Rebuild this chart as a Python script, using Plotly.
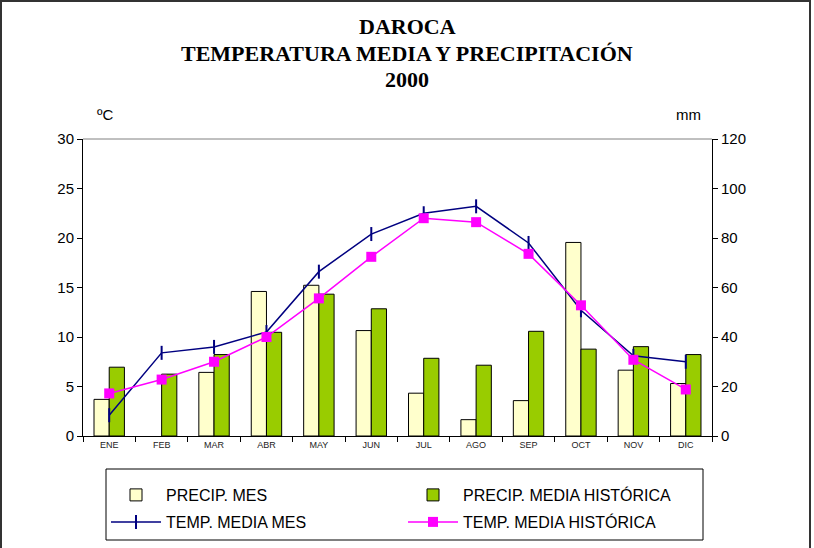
import plotly.graph_objects as go

# Data
# -------------------------------------------------------------------------
months = ['ENE', 'FEB', 'MAR', 'ABR', 'MAY', 'JUN',
          'JUL', 'AGO', 'SEP', 'OCT', 'NOV', 'DIC']
precip_mes = [14.8, None, 25.7, 58.4, 60.9, 42.6, 17.3, 6.6, 14.3, 78.2, 26.6, 21.2]
precip_hist = [27.8, 25.0, 32.9, 41.9, 57.3, 51.4, 31.4, 28.6, 42.3, 35.1, 36.1, 32.9]
temp_mes = [2.1, 8.4, 9.0, 10.5, 16.6, 20.4, 22.5, 23.2, 19.5, 12.7, 8.1, 7.5]
temp_hist = [4.3, 5.7, 7.5, 10.0, 13.9, 18.1, 22.0, 21.6, 18.4, 13.2, 7.7, 4.7]
title_lines = ['DAROCA', 'TEMPERATURA MEDIA Y PRECIPITACIÓN', '2000']

W, H = 814, 548
ML, MR, MT, MB = 83, 102, 139, 112
PW, PH = W - ML - MR, H - MT - MB


def px(x):
    # figure pixel -> paper x
    return (x - ML) / PW


def py(y):
    # figure pixel (from top) -> paper y
    return (H - MB - y) / PH


SANS = 'Arial, Liberation Sans, sans-serif'
SERIF = 'Times New Roman, Liberation Serif, serif'

# Traces
# -------------------------------------------------------------------------
bar_mes = go.Bar(x=months, y=precip_mes, name='PRECIP. MES',
                 marker=dict(color='#FFFFCC', line=dict(color='#000000', width=1)),
                 yaxis='y', legend='legend')
bar_hist = go.Bar(x=months, y=precip_hist, name='PRECIP. MEDIA HISTÓRICA',
                  marker=dict(color='#99CC00', line=dict(color='#000000', width=1)),
                  yaxis='y', legend='legend2')
line_mes = go.Scatter(x=months, y=temp_mes, name='TEMP. MEDIA MES',
                      mode='lines+markers', yaxis='y2', legend='legend3',
                      line=dict(color='#000080', width=1.5),
                      marker=dict(symbol='line-ns', size=10,
                                  line=dict(color='#000080', width=2)))
line_hist = go.Scatter(x=months, y=temp_hist, name='TEMP. MEDIA HISTÓRICA',
                       mode='lines+markers', yaxis='y2', legend='legend4',
                       line=dict(color='#FF00FF', width=1.5),
                       marker=dict(symbol='square', size=10, color='#FF00FF'))

fig = go.Figure(data=[bar_mes, bar_hist, line_mes, line_hist])

legend_common = dict(orientation='h', xanchor='left', yanchor='middle',
                     bgcolor='rgba(0,0,0,0)', borderwidth=0, itemwidth=50,
                     font=dict(family=SANS, size=16, color='#000000'),
                     itemclick=False, itemdoubleclick=False)

# Title lines and unit labels
notes = []
for line, ypix in zip(title_lines, [27, 53, 80]):
    notes.append(dict(text='<b>%s</b>' % line, x=px(W / 2), y=py(ypix),
                      xref='paper', yref='paper', showarrow=False,
                      xanchor='center', yanchor='middle',
                      font=dict(family=SERIF, size=22, color='#000000')))
notes += [
    dict(text='ºC', x=px(105), y=py(115), xref='paper', yref='paper',
         xanchor='center', yanchor='middle', showarrow=False,
         font=dict(size=15)),
    dict(text='mm', x=px(688), y=py(115), xref='paper', yref='paper',
         xanchor='center', yanchor='middle', showarrow=False,
         font=dict(size=15)),
]

fig.update_layout(
    width=W, height=H,
    margin=dict(l=ML, r=MR, t=MT, b=MB, autoexpand=False),
    paper_bgcolor='white', plot_bgcolor='white',
    font=dict(family=SANS, size=15, color='#000000'),
    barmode='group', bargap=0.42, bargroupgap=0,
    xaxis=dict(range=[-0.5, len(months) - 0.5],
               showline=True, linecolor='#000000', linewidth=1,
               ticks='outside', tickson='boundaries', ticklen=5,
               tickcolor='#000000', showgrid=False,
               tickfont=dict(family=SANS, size=9, color='#222222')),
    yaxis=dict(side='right', range=[0, 120], dtick=20, showgrid=False,
               zeroline=False, showline=True, linecolor='#000000', linewidth=1,
               ticks='outside', ticklen=5, tickcolor='#000000',
               tickfont=dict(size=15)),
    yaxis2=dict(side='left', overlaying='y', range=[0, 30], dtick=5,
                showgrid=False, zeroline=False, showline=True,
                linecolor='#000000', linewidth=1, ticks='outside', ticklen=5,
                tickcolor='#000000', tickfont=dict(size=15)),
    legend=dict(legend_common, x=px(106), y=py(495)),
    legend2=dict(legend_common, x=px(403), y=py(495)),
    legend3=dict(legend_common, x=px(106), y=py(522)),
    legend4=dict(legend_common, x=px(403), y=py(522)),
    showlegend=True,
    annotations=notes,
    shapes=[
        # grey top edge of the plot area
        dict(type='line', xref='paper', yref='paper', x0=0, x1=1, y0=1, y1=1,
             line=dict(color='#808080', width=1)),
        # legend box
        dict(type='rect', xref='paper', yref='paper',
             x0=px(106), x1=px(703), y0=py(469), y1=py(540),
             line=dict(color='#000000', width=1)),
        # outer frame
        dict(type='rect', xref='paper', yref='paper',
             x0=px(1), x1=px(810), y0=py(1), y1=py(H + 20),
             line=dict(color='#333333', width=2)),
    ],
)

# drop the browser's default page margin so the chart sits at 0,0
fig.write_html('out.html', config={'displayModeBar': False},
               post_script="document.body.style.margin='0';")
